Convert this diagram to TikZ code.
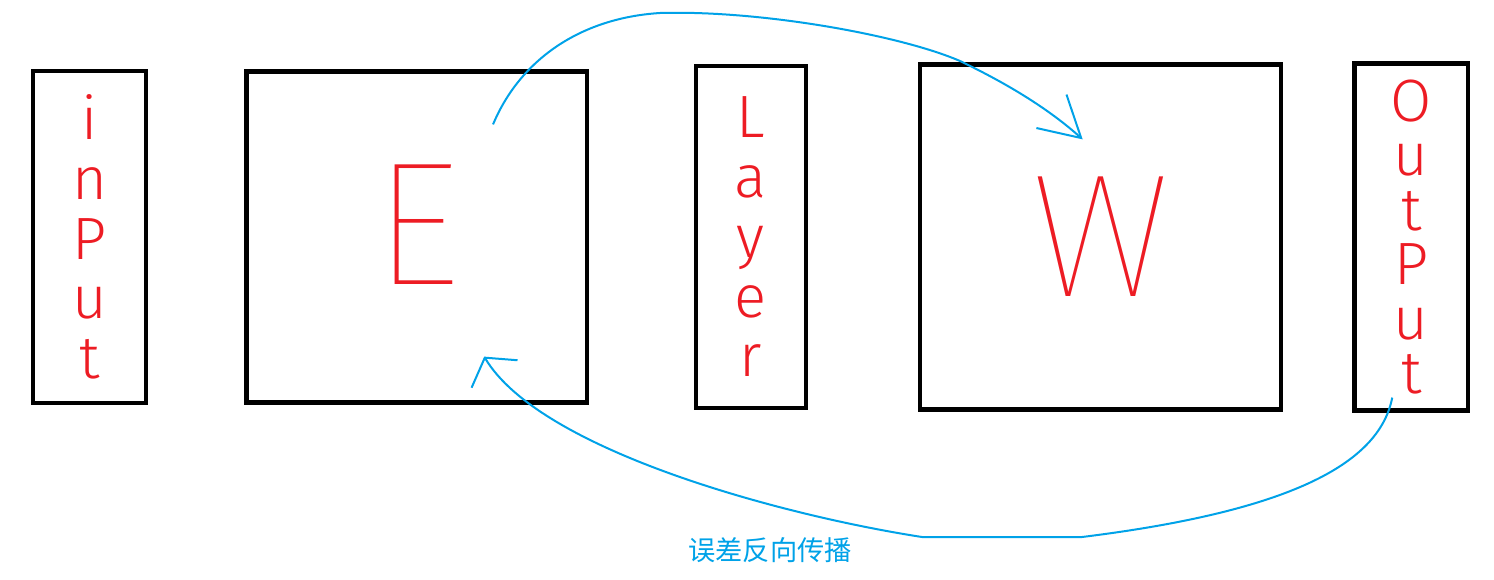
\documentclass[tikz,border=0pt]{standalone}
\usepackage{fontspec}
\newfontfamily\hand{Fira Sans}[UprightFont=* Light]
\newfontfamily\handthin{Fira Sans}[UprightFont=* Thin]
\newfontfamily\cjk{Noto Sans CJK SC}
\usetikzlibrary{positioning,arrows.meta}
\definecolor{penred}{RGB}{237,28,36}
\definecolor{penblue}{RGB}{0,162,232}

\begin{document}
\begin{tikzpicture}[x=0.02cm, y=-0.02cm, every node/.style={inner sep=0pt}]
\tikzstyle{box}=[draw, line width=0.085cm, text=penred, align=center]
\tikzstyle{letters}=[box, font=\hand\fontsize{34}{34}\selectfont]
\tikzstyle{bigletter}=[box, font=\handthin\fontsize{100}{100}\selectfont]
\tikzstyle{flow}=[draw=penblue, line width=0.04cm]
\useasboundingbox (0,0) rectangle (1494,579);
\node[letters, minimum width=2.25cm, minimum height=6.64cm] (input) at (89.5,237) {i\\n\\P\\u\\t};
\node[bigletter, minimum width=6.81cm, minimum height=6.62cm, text depth=0.5cm, right=1.93cm of input] (E) {E};
\node[letters, minimum width=2.21cm, minimum height=6.84cm, right=2.09cm of E] (layer) {L\\a\\y\\e\\r};
\node[bigletter, minimum width=7.23cm, minimum height=6.9cm, right=2.19cm of layer] (W) {W};
\node[letters, minimum width=2.27cm, minimum height=6.94cm, right=1.38cm of W, font=\hand\fontsize{34}{31}\selectfont] (output) {O\\u\\t\\P\\u\\t};
% ends of the two blue strokes
\coordinate (eout) at ([xshift=-1.92cm, yshift=-1.1cm]E.north east);
\coordinate (win) at ([xshift=3.3cm, yshift=-1.54cm]W.north west);
\coordinate (oout) at ([xshift=-0.38cm, yshift=0.3cm]output.south);
\coordinate (ein) at ([xshift=1.35cm, yshift=0.96cm]E.south);
\draw[flow, -{Straight Barb[length=0.8cm, width=0.9cm]}] (eout) .. controls (520,60) and (580,18) .. (660,13) .. controls (760,10) and (900,35) .. (960,61) .. controls (1010,85) and (1050,110) .. (win);
\draw[flow, -{Straight Barb[length=0.38cm, width=1.07cm]}] (oout) .. controls (1380,460) and (1300,510) .. (1082,537) -- (922,537) .. controls (780,515) and (540,450) .. (ein);
\node[text=penblue, font=\cjk\fontsize{15.5}{15.5}\selectfont] (backprop) at (770,550) {误差反向传播};
\end{tikzpicture}
\end{document}
